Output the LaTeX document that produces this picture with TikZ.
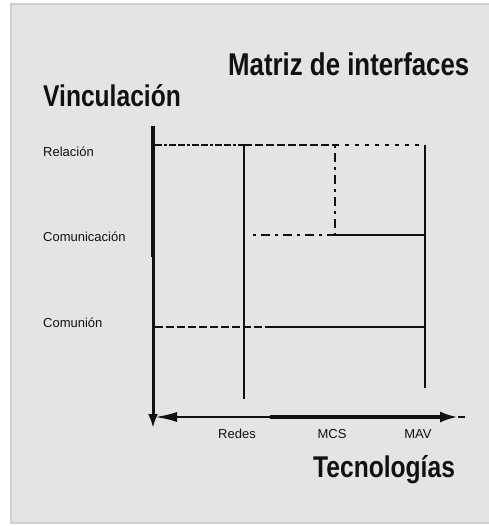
\documentclass[tikz,border=0pt]{standalone}
\usepackage{fontspec}
\setmainfont{Liberation Sans}
\newfontfamily\narrowfont[FakeStretch=0.82]{Liberation Sans}
\usetikzlibrary{arrows.meta}
\definecolor{panel}{HTML}{E4E4E4}
\definecolor{panelrule}{HTML}{CFCFCF}
\definecolor{ink}{HTML}{111111}
\tikzset{
  title/.style={anchor=base west, inner sep=0pt, text=ink, font=\narrowfont\bfseries\fontsize{30}{32}\selectfont},
  rowlabel/.style={anchor=west, inner sep=0pt, text=ink, font=\fontsize{13}{14}\selectfont},
  collabel/.style={anchor=center, inner sep=0pt, text=ink, font=\fontsize{13}{14}\selectfont},
  gridline/.style={draw=ink, line width=2.1pt},
  dashA/.style={gridline, dash pattern=on 7pt off 2pt on 3pt off 2pt on 7pt off 2pt},
  dashB/.style={gridline, dash pattern=on 8pt off 3pt},
  dashC/.style={gridline, dash pattern=on 4pt off 6pt},
  dashD/.style={gridline, dash pattern=on 3pt off 5pt on 9pt off 5pt},
  axisline/.style={draw=ink},
}
\begin{document}
\begin{tikzpicture}[x=1pt,y=-1pt]
\useasboundingbox (0,0) rectangle (488,526);
\fill[white] (0,0) rectangle (488,526);
\fill[panel] (11,4) rectangle (490,523);
\draw[panelrule, line width=1.5pt] (11,524) -- (11,4) -- (490,4);
\draw[panelrule, line width=1.2pt] (11,523) -- (490,523);

% titles
\node[title, font=\narrowfont\bfseries\fontsize{31.5}{33}\selectfont] (matriz) at (228,76) {Matriz de interfaces};
\node[title] (vinc) at (43,107) {Vinculación};
\node[title] (tecno) at (313,477) {Tecnologías};

% row labels
\node[rowlabel] (rel) at (43,152) {Relación};
\node[rowlabel] (com) at (43,237) {Comunicación};
\node[rowlabel] (cmn) at (43,323) {Comunión};

% column labels
\node[collabel] (redes) at (237,434) {Redes};
\node[collabel] (mcs) at (332,434) {MCS};
\node[collabel] (mav) at (418,434) {MAV};

% coordinates
\coordinate (ytop) at (153,126);
\coordinate (ymid) at (153,257);
\coordinate (ybot) at (153,428);
\coordinate (xl) at (155,417);
\coordinate (xm) at (270,417);
\coordinate (xtip) at (458,417);
\coordinate (xend) at (465,417);
\coordinate (t0) at (155,145);
\coordinate (t1) at (244,145);
\coordinate (t2) at (335,145);
\coordinate (t3) at (425,145);
\coordinate (r1) at (244,399);
\coordinate (m2) at (335,240);
\coordinate (r3) at (425,388);
\coordinate (c0) at (253,235);
\coordinate (c2) at (335,235);
\coordinate (c3) at (425,235);
\coordinate (b0) at (155,327);
\coordinate (bm) at (267,327);
\coordinate (b3) at (425,327);

% vertical axis
\draw[axisline, line width=4pt] (ytop) -- (ymid);
\draw[axisline, line width=3pt, -{Latex[length=14pt,width=10pt]}] (ymid) -- (ybot);

% horizontal axis
\draw[axisline, line width=2.2pt, {Latex[length=22pt,width=10pt]}-] (xl) -- (xm);
\draw[axisline, line width=3.2pt, -{Latex[length=18pt,width=11pt]}] (xm) -- (xtip);
\draw[axisline, line width=2.2pt] (xtip) -- (xend);

% top line
\draw[dashA] (t0) -- (t1);
\draw[dashB] (t1) -- (t2);
\draw[dashC] (t2) -- (t3);

% verticals
\draw[gridline] (t1) -- (r1);
\draw[dashD] (t2) -- (m2);
\draw[gridline] (t3) -- (r3);

% middle line
\draw[dashD] (c0) -- (c2);
\draw[gridline] (c2) -- (c3);

% bottom line
\draw[dashB] (b0) -- (bm);
\draw[gridline] (bm) -- (b3);
\end{tikzpicture}
\end{document}
